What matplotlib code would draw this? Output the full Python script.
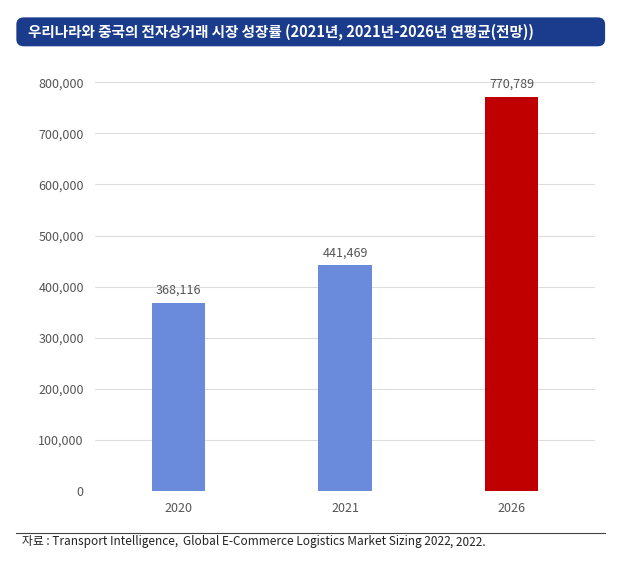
import matplotlib
matplotlib.use("Agg")
import matplotlib.pyplot as plt
from matplotlib.patches import FancyBboxPatch

plt.rcParams["font.family"] = ["Noto Sans CJK KR", "DejaVu Sans"]

years = ["2020", "2021", "2026"]
values = [368116, 441469, 770789]
colors = ["#6a8bdc", "#6a8bdc", "#c00000"]
title = "우리나라와 중국의 전자상거래 시장 성장률 (2021년, 2021년-2026년 연평균(전망))"

fig = plt.figure(figsize=(6.29, 5.79), dpi=100)
ax = fig.add_axes([0.151, 0.152, 0.795, 0.706])

ax.bar(range(3), values, width=0.32, color=colors, zorder=3)
for i, v in enumerate(values):
    ax.text(i, v + 12000, f"{v:,}", ha="center", va="bottom",
            fontsize=9, color="#555555", clip_on=False)

ax.set_xlim(-0.5, 2.5)
ax.set_ylim(0, 800000)
ax.set_yticks(range(0, 800001, 100000))
ax.set_yticklabels([f"{t:,}" for t in range(0, 800001, 100000)])
ax.set_xticks(range(3))
ax.set_xticklabels(years)
ax.tick_params(length=0, labelsize=9, colors="#555555", pad=8)
ax.grid(axis="y", color="#dddddd", lw=0.8, zorder=0)
for s in ax.spines.values():
    s.set_visible(False)

# header box
fig.patches.append(FancyBboxPatch(
    (0.026, 0.92), 0.936, 0.05, boxstyle="round,pad=0,rounding_size=0.012",
    transform=fig.transFigure, facecolor="#1b3c8c", edgecolor="none"))
fig.text(0.045, 0.945, title, color="white", fontsize=10.5,
         fontweight="bold", va="center", ha="left")

# bottom rule and source
fig.add_artist(plt.Line2D([0.026, 0.962], [0.079, 0.079], color="#444444",
                          lw=0.8, transform=fig.transFigure))
t1 = fig.text(0.035, 0.058, "자료 : Transport Intelligence, ", fontsize=8.5,
              va="baseline", ha="left", color="#222222")
t2 = fig.text(0, 0, "Global E-Commerce Logistics Market Sizing 2022",
              fontsize=8.5, style="italic", va="baseline", ha="left",
              color="#222222", transform=t1.get_transform())
fig.canvas.draw()
r = fig.canvas.get_renderer()
bb = t1.get_window_extent(r).transformed(fig.transFigure.inverted())
t2.set_position((bb.x1 + 0.003, 0.058))
fig.canvas.draw()
bb2 = t2.get_window_extent(r).transformed(fig.transFigure.inverted())
fig.text(bb2.x1, 0.058, ", 2022.", fontsize=8.5, va="baseline", ha="left",
         color="#222222")

fig.savefig("out.png", dpi=100, facecolor="white")
